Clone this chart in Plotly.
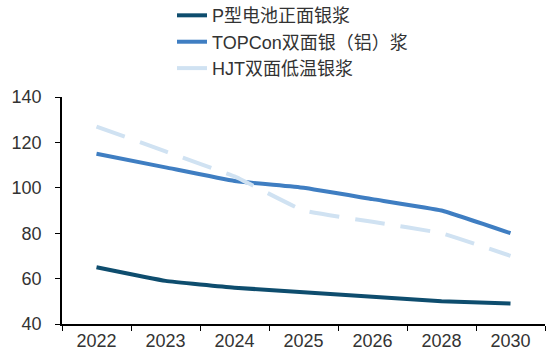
import plotly.graph_objects as go

years = ["2022", "2023", "2024", "2025", "2026", "2028", "2030"]
p_type = [65, 59, 56, 54, 52, 50, 49]
topcon = [115, 109, 103, 100, 95, 90, 80]
hjt = [127, 116, 105, 90, 85, 80, 70]

names = ["P型电池正面银浆", "TOPCon双面银（铝）浆", "HJT双面低温银浆"]
colors = ["#0E4D6E", "#3F7EC2", "#D0E2F2"]
dashes = ["solid", "solid", "30px,16px"]

fig = go.Figure()
for name, vals, c, d in zip(names, [p_type, topcon, hjt], colors, dashes):
    fig.add_trace(go.Scatter(x=years, y=vals, name=name, mode="lines",
                             line=dict(color=c, width=4, dash=d, shape="spline", smoothing=0.3)))

font_family = "Liberation Sans, Arial, Noto Sans CJK SC, sans-serif"
fig.update_layout(
    width=547, height=358,
    margin=dict(l=62, r=2, t=97, b=34, autoexpand=False),
    paper_bgcolor="white", plot_bgcolor="white",
    font=dict(family=font_family, size=18, color="#333333"),
    showlegend=True,
    legend=dict(x=(172 - 62) / 483, y=1.44, xanchor="left", yanchor="top",
                font=dict(size=18, color="#333333"), tracegroupgap=0,
                itemwidth=30, bgcolor="rgba(0,0,0,0)"),
    xaxis=dict(type="category", range=[-0.5, 6.5], showline=True, linecolor="black", linewidth=1.5,
               ticks="outside", tickson="boundaries", ticklen=5, tickcolor="black",
               showgrid=False, tickfont=dict(size=18, color="#333333"), fixedrange=True),
    yaxis=dict(range=[40, 140], dtick=20, showline=True, linecolor="black", linewidth=1.5,
               ticks="outside", ticklen=5, tickcolor="black", showgrid=False, zeroline=False,
               ticklabelstandoff=10,
               tickfont=dict(size=18, color="#333333")),
)
fig.write_html("out.html")
